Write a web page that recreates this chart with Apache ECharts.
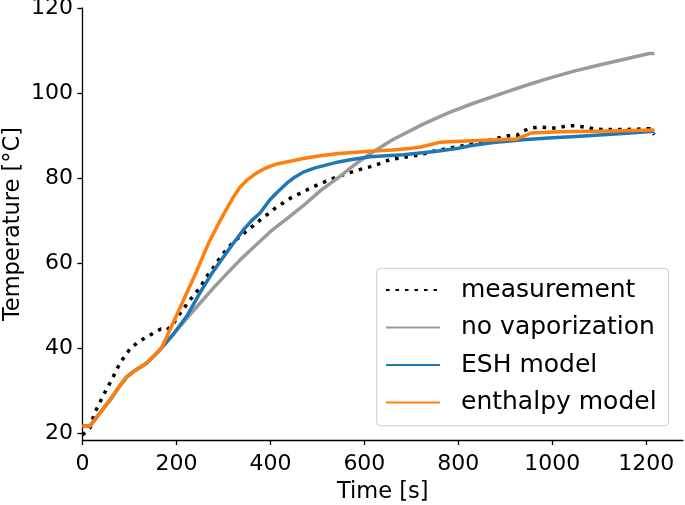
<!DOCTYPE html>
<html>
<head>
<meta charset="utf-8">
<script src="https://cdn.jsdelivr.net/npm/echarts@6/dist/echarts.min.js"></script>
<style>
html,body{margin:0;padding:0;background:#fff;}
#chart{width:685px;height:505px;}
</style>
</head>
<body>
<div id="chart"></div>
<script>
// ---- data (time [s], temperature [°C]) ----
var measurement = [
  [0,19.6],[8,20.3],[16,21.2],[26,24.7],[44,28.8],[62,32.5],[80,36.5],[101,39.8],
  [116,41.2],[133,42.4],[151,43.5],[167,44.5],[180,44.3],[192,45.5],[204,47.6],
  [215,49.2],[227,51.1],[240,52.8],[252,54.5],[262,56.5],[273,58],[290,60.8],
  [305,63],[320,64.8],[337,66.4],[352,67.8],[366,69],[382,70.5],[398,71.8],
  [410,72.9],[443,75.3],[470,76.8],[492,78],[530,79.8],[566,81.2],[590,82],
  [620,82.9],[654,84.3],[679,84.8],[720,85.5],[742,86.2],[770,86.8],[798,87.4],
  [822,87.8],[846,88.4],[870,89],[903,89.9],[924,90],[938,91.1],[956,91.8],
  [974,92],[995,91.8],[1013,91.8],[1030,92.3],[1050,92.3],[1069,92],[1087,91.6],
  [1108,91.4],[1144,91.4],[1179,91.5],[1207,91.6],[1217,90.2]
];
var noVaporization = [
  [0,21.7],[16,21.7],[37,24.7],[60,28],[80,31.2],[94,33.2],[110,34.6],[137,36.5],
  [158,38.8],[168,40],[195,43.5],[222,47],[252,50.8],[280,54.3],[308,57.6],
  [335,60.7],[363,63.6],[401,67.5],[430,70],[470,73.5],[506,77],[548,80.4],
  [580,83.2],[612,85.7],[660,89],[725,92.7],[780,95.4],[832,97.6],[895,100],
  [938,101.6],[990,103.4],[1044,105.1],[1100,106.6],[1151,107.9],[1190,108.9],
  [1207,109.3],[1217,109.3]
];
var eshModel = [
  [0,21.7],[16,21.7],[37,24.7],[60,28],[80,31.2],[94,33.2],[110,34.6],[137,36.5],
  [158,38.8],[168,40],[195,43.5],[222,47.5],[250,53],[275,57.5],[294,60.5],
  [320,64.5],[344,68],[360,70],[378,71.8],[399,74.9],[413,76.5],[435,78.8],
  [449,80],[470,81.4],[495,82.4],[520,83.1],[545,83.8],[570,84.3],[612,85],
  [683,85.5],[754,86.3],[800,87],[825,87.6],[870,88.3],[937,89],[1000,89.5],
  [1051,89.8],[1150,90.5],[1217,91]
];
var enthalpyModel = [
  [0,21.7],[16,21.7],[37,24.7],[60,28],[80,31.2],[94,33.2],[110,34.6],[137,36.5],
  [158,38.8],[168,40],[180,42.8],[200,47.6],[220,52.5],[240,57.3],[256,61.5],
  [271,65.3],[293,70],[321,75.5],[335,77.8],[350,79.5],[368,81],[385,82.1],
  [400,82.8],[413,83.3],[440,83.9],[470,84.6],[510,85.3],[545,85.8],[575,86],
  [612,86.3],[660,86.6],[700,87],[720,87.3],[760,88.4],[830,88.8],[925,89.2],
  [940,89.9],[955,90.6],[1016,90.9],[1123,91.1],[1217,91.3]
];
var xTicks = [0,200,400,600,800,1000,1200];
var yTicks = [20,40,60,80,100,120];
var seriesNames = ['measurement','no vaporization','ESH model','enthalpy model'];

var FONT = 'DejaVu Sans';
var chart = echarts.init(document.getElementById('chart'), null, {renderer:'canvas'});
function mkSeries(name, data, color, type) {
  return {
    name: name, type: 'line', data: data, showSymbol: false, symbol: 'none',
    smooth: false, animation: false,
    lineStyle: {color: color, width: 3.5, type: type || 'solid', cap: 'butt', join: 'round'},
    itemStyle: {color: color}
  };
}
function plain(v) { return String(v); }
chart.setOption({
  animation: false,
  backgroundColor: '#fff',
  grid: {left: 82.4, top: 8, right: 2, bottom: 65, containLabel: false, outerBoundsMode: 'none'},
  xAxis: {
    type: 'value', min: 0, max: 1278,
    name: 'Time [s]', nameLocation: 'middle', nameGap: 41, nameMoveOverlap: false,
    nameTextStyle: {fontFamily: FONT, fontSize: 22.5, color: '#000'},
    axisLine: {show: true, onZero: false, lineStyle: {color: '#000', width: 1.3}},
    axisTick: {show: true, length: 5, inside: false, customValues: xTicks, lineStyle: {color: '#000', width: 1.3}},
    axisLabel: {customValues: xTicks, formatter: plain, margin: 13, fontFamily: FONT, fontSize: 22, color: '#000'},
    splitLine: {show: false}
  },
  yAxis: {
    type: 'value', min: 18.4, max: 120,
    name: 'Temperature [°C]', nameLocation: 'middle', nameGap: 58, nameRotate: 90, nameMoveOverlap: false,
    nameTextStyle: {fontFamily: FONT, fontSize: 22.5, color: '#000'},
    axisLine: {show: true, onZero: false, lineStyle: {color: '#000', width: 1.3}},
    axisTick: {show: true, length: 5, inside: false, customValues: yTicks, lineStyle: {color: '#000', width: 1.3}},
    axisLabel: {customValues: yTicks, formatter: plain, margin: 9.5, fontFamily: FONT, fontSize: 22, color: '#000'},
    splitLine: {show: false}
  },
  legend: {
    data: seriesNames, orient: 'vertical', left: 376.7, top: 268.3,
    itemWidth: 54, itemHeight: 14, itemGap: 7.5,
    padding: [6.7, 12, 8.3, 8.3],
    backgroundColor: 'rgba(255,255,255,0.8)', borderColor: '#cccccc', borderWidth: 1, borderRadius: 4,
    itemStyle: {color: 'rgba(0,0,0,0)', borderWidth: 0, opacity: 0},
    textStyle: {fontFamily: FONT, fontSize: 25, color: '#000', lineHeight: 30, padding: [0,0,0,16]},
    selectedMode: false
  },
  series: [
    mkSeries(seriesNames[0], measurement, '#000000', [3.5, 6]),
    mkSeries(seriesNames[1], noVaporization, '#9a9a9a'),
    mkSeries(seriesNames[2], eshModel, '#1f77b4'),
    mkSeries(seriesNames[3], enthalpyModel, '#ff7f0e')
  ]
});
</script>
</body>
</html>
